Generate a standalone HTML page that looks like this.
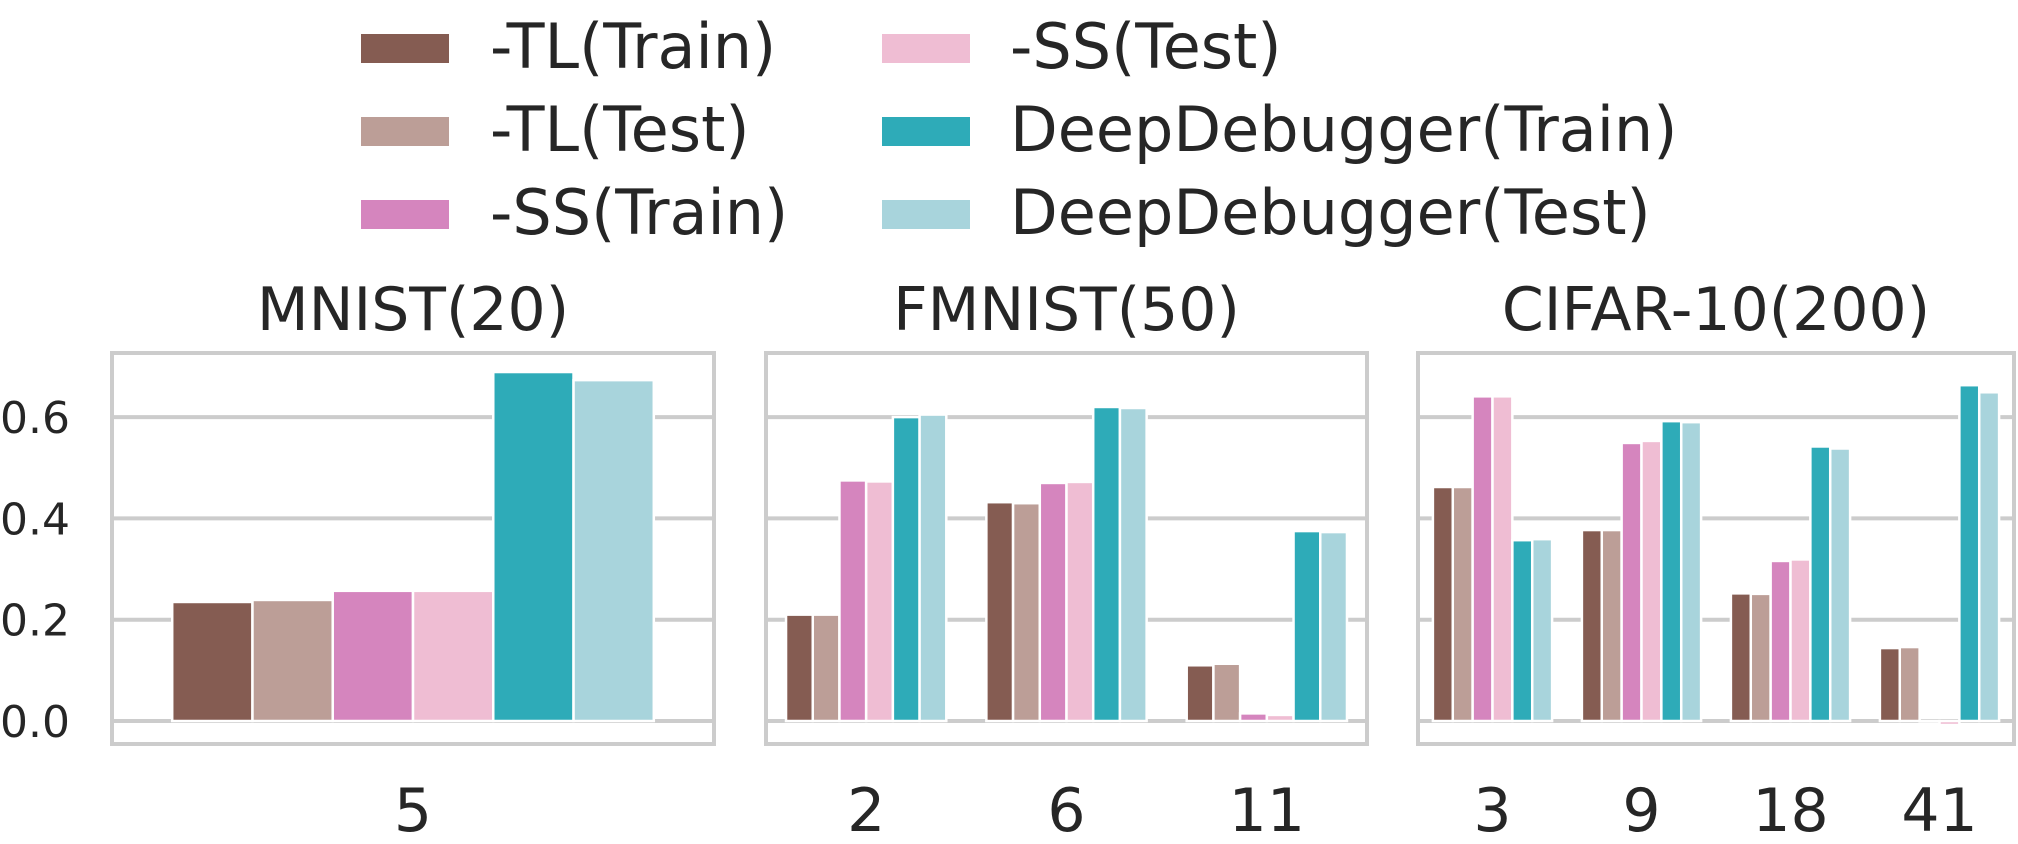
<!DOCTYPE html>
<html><head><meta charset="utf-8">
<style>
html,body{margin:0;padding:0;background:#fff;}
svg{display:block;font-family:"DejaVu Sans","Liberation Sans",sans-serif;}
</style></head>
<body>
<svg id="chart" width="2018" height="844" viewBox="0 0 2018 844" xmlns="http://www.w3.org/2000/svg"></svg>
<script>
const seriesNames = ["-TL(Train)","-TL(Test)","-SS(Train)","-SS(Test)","DeepDebugger(Train)","DeepDebugger(Test)"];
const seriesColors = ["#855c52","#bc9e97","#d585be","#efbdd3","#2eabb8","#a8d4dc"];
const panelTitles = ["MNIST(20)","FMNIST(50)","CIFAR-10(200)"];
const mnistCats = ["5"];
const fmnistCats = ["2","6","11"];
const cifarCats = ["3","9","18","41"];
const mnistValues = [[0.235],[0.239],[0.257],[0.257],[0.689],[0.673]];
const fmnistValues = [[0.21,0.432,0.11],[0.21,0.43,0.113],[0.475,0.47,0.015],[0.473,0.472,0.012],[0.60,0.62,0.375],[0.605,0.618,0.373]];
const cifarValues = [[0.462,0.377,0.252,0.144],[0.462,0.377,0.251,0.146],[0.641,0.549,0.316,0.0],[0.641,0.553,0.319,-0.008],[0.357,0.592,0.542,0.663],[0.359,0.590,0.538,0.649]];
const yTicks = [0.0,0.2,0.4,0.6];
const yTickLabels = ["0.0","0.2","0.4","0.6"];

const NS = "http://www.w3.org/2000/svg";
const svg = document.getElementById("chart");
function mk(tag, attrs, parent){
  const e = document.createElementNS(NS, tag);
  for (const k in attrs) e.setAttribute(k, attrs[k]);
  (parent||svg).appendChild(e);
  return e;
}
const y0 = 721, yScale = 506.5;
function yPos(v){ return y0 - v*yScale; }
const panelTop = 353, panelBottom = 744;
const panels = [
  {left:112, right:714, cats:mnistCats, vals:mnistValues},
  {left:766, right:1367, cats:fmnistCats, vals:fmnistValues},
  {left:1418, right:2014, cats:cifarCats, vals:cifarValues}
];

panels.forEach((p, pi) => {
  const g = mk("g", {});
  
  
  const w = p.right - p.left;
  const n = p.cats.length;
  const catW = w / n;
  function xCenter(i){ return p.left + catW*(i+0.5); }
  yTicks.forEach((t, ti) => {
    const l = mk("line", {x1:p.left, x2:p.right, y1:yPos(t), y2:yPos(t), stroke:"#cccccc", "stroke-width":4}, g);
    
    
  });
  const groupW = catW*0.8, barW = groupW/6;
  p.vals.forEach((ser, si) => {
    ser.forEach((v, ci) => {
      const x = xCenter(ci) - groupW/2 + si*barW;
      const yt = Math.min(yPos(v), yPos(0)), h = Math.abs(yPos(v)-yPos(0));
      const r = mk("rect", {x:x, y:yt, width:barW, height:Math.max(h,0.5), fill:seriesColors[si], stroke:"#fff", "stroke-width":2.5}, g);
      
      
    });
  });
  const f = mk("rect", {x:p.left, y:panelTop, width:w, height:panelBottom-panelTop, fill:"none", stroke:"#cccccc", "stroke-width":4}, g);
  
  
  const tt = mk("text", {x:(p.left+p.right)/2, y:330, "text-anchor":"middle", "font-size":60, fill:"#262626"}, g);
  tt.textContent = panelTitles[pi];
  
  
  p.cats.forEach((c, ci) => {
    const t = mk("text", {x:xCenter(ci), y:831, "text-anchor":"middle", "font-size":60, fill:"#262626"}, g);
    t.textContent = c;
    
    
  });
});
yTicks.forEach((t, ti) => {
  const e = mk("text", {x:70, y:yPos(t)+16, "text-anchor":"end", "font-size":44, fill:"#262626"});
  e.textContent = yTickLabels[ti];
  
  
});
const lg = mk("g", {});


const rowY = [34, 117, 200];
seriesNames.forEach((s, si) => {
  const col = si < 3 ? 0 : 1;
  const row = col === 0 ? si : si - 3;
  const px = col === 0 ? 361 : 882;
  const tx = col === 0 ? 490 : 1010;
  const py = rowY[row];
  const r = mk("rect", {x:px, y:py, width:88, height:29, fill:seriesColors[si]}, lg);
  
  
  const t = mk("text", {x:tx, y:py+34, "font-size":62, fill:"#262626"}, lg);
  t.textContent = s;
  
  
});
</script>
</body></html>
